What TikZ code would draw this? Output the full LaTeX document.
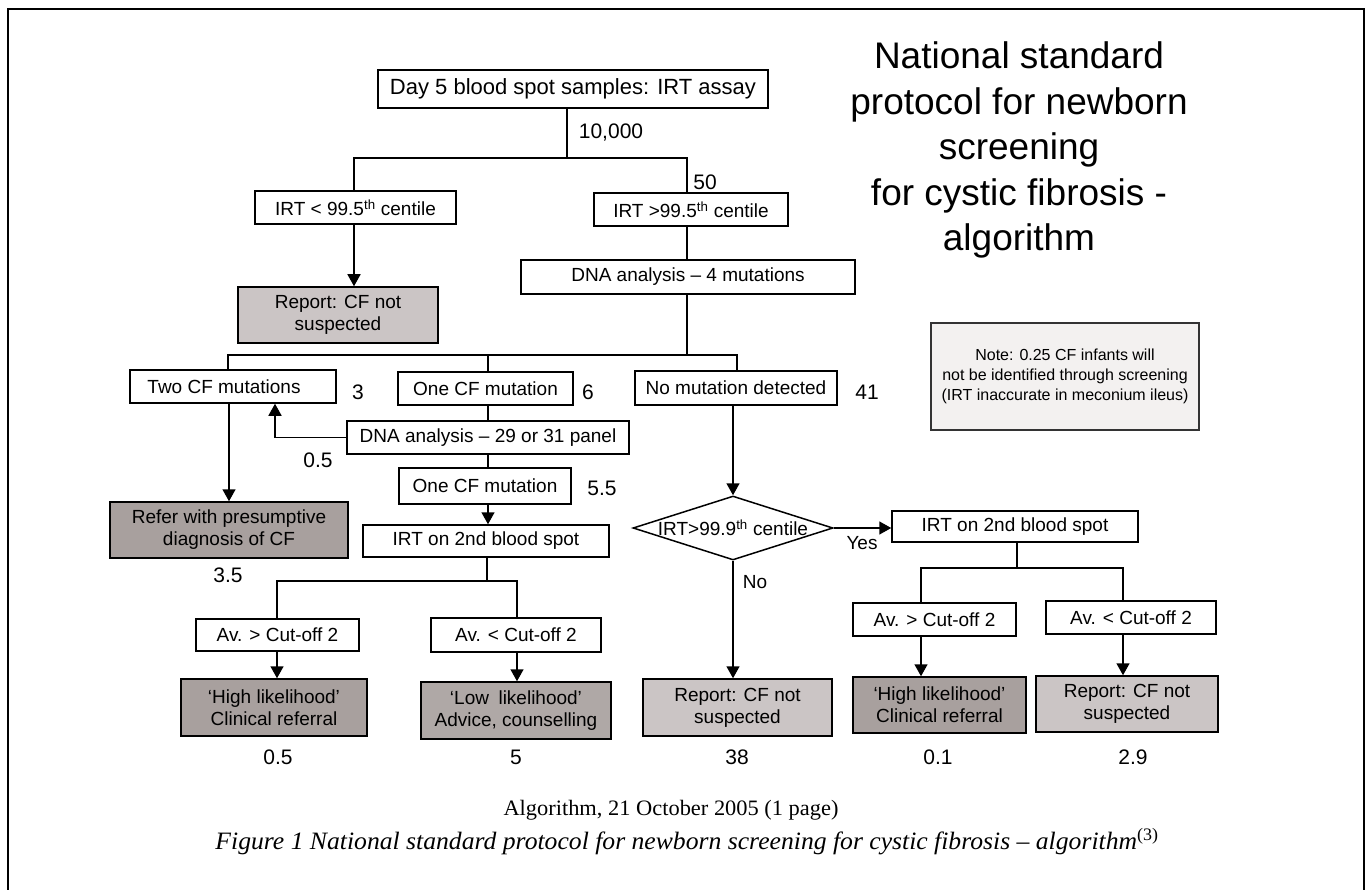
\documentclass[tikz,border=0pt]{standalone}
\usepackage{fontspec}
\setmainfont{Liberation Sans}
\newfontfamily\capfont{Liberation Serif}
\usetikzlibrary{arrows.meta,shapes.geometric}
\definecolor{darkfill}{HTML}{A8A09E}
\definecolor{lowfill}{HTML}{AFA8A6}
\definecolor{lightfill}{HTML}{CBC5C5}
\definecolor{notefill}{HTML}{F3F1F0}
\tikzset{
  bx/.style={draw, line width=1.5pt, inner sep=0, align=center, font=\fontsize{19}{22}\selectfont},
  wbox/.style={bx, fill=white},
  lbox/.style={bx, fill=lightfill},
  dbox/.style={bx, fill=darkfill},
  sz/.style 2 args={minimum width=#1pt, minimum height=#2pt},
  lbl/.style={inner sep=0, font=\fontsize{21}{24}\selectfont},
  ln/.style={line width=1.5pt},
  arr/.style={line width=1.5pt, -{Triangle[length=12pt,width=13pt]}}
}
\begin{document}
\begin{tikzpicture}[x=1pt,y=-1pt]
\useasboundingbox (0,0) rectangle (1370,890);
\fill[white] (0,0) rectangle (1370,890);
\draw[line width=1.3pt] (8,900) -- (8,9) -- (1364,9) -- (1364,900);

% title
\node[inner sep=0, align=center, font=\fontsize{37}{45.5}\selectfont] (title) at (1019,150)
  {National standard\\protocol for newborn\\screening\\for cystic fibrosis -\\algorithm};

% note
\node[draw=black!80, line width=1.2pt, fill=notefill, sz={268}{107}, inner sep=0, align=center,
      font=\fontsize{16}{20}\selectfont] (note) at (1065,376.5)
  {Note: 0.25 CF infants will\\not be identified through screening\\(IRT inaccurate in meconium ileus)};

% boxes
\node[wbox, sz={390}{38}, font=\fontsize{22}{24}\selectfont] (day5) at (573,89) {Day 5 blood spot samples: IRT assay};
\node[wbox, sz={201}{33}] (irtlow) at (355.5,207.5) {IRT < 99.5\textsuperscript{th} centile};
\node[wbox, sz={194}{33}] (irthigh) at (691,209.5) {IRT >99.5\textsuperscript{th} centile};
\node[wbox, sz={334}{34}] (dna4) at (688,277) {DNA analysis -- 4 mutations};
\node[lbox, sz={200}{56}] (rep1) at (338,315) {Report: CF not\\suspected};
\node[wbox, sz={206}{33}] (twocf) at (233,386.5) {\hspace*{-18pt}Two CF mutations};
\node[wbox, sz={175}{33}] (onecf1) at (485.5,388.5) {One CF mutation};
\node[wbox, sz={202}{34}] (nomut) at (736,388) {No mutation detected};
\node[wbox, sz={282}{33}] (dna29) at (488,437.5) {DNA analysis -- 29 or 31 panel};
\node[wbox, sz={172}{36}] (onecf2) at (485,486) {One CF mutation};
\node[dbox, sz={238}{56}] (refer) at (229,530) {Refer with presumptive\\diagnosis of CF};
\node[wbox, sz={246}{32}] (irt2L) at (486,541) {IRT on 2nd blood spot};
\node[wbox, sz={163}{32}] (avgtL) at (277.5,635) {Av. > Cut-off 2};
\node[wbox, sz={170}{34}] (avltL) at (516,635) {Av. < Cut-off 2};
\node[dbox, sz={186}{57}] (highL) at (274,707.5) {‘High likelihood’\\Clinical referral};
\node[bx, fill=lowfill, sz={190}{57}] (lowL) at (516,710.5) {‘Low\enspace likelihood’\\Advice, counselling};
\node[diamond, draw, line width=1.5pt, fill=white, minimum width=200pt, minimum height=64pt, inner sep=0] (dia) at (733,528) {};
\node[inner sep=0, font=\fontsize{19}{22}\selectfont] (diatext) at (dia.center) {IRT>99.9\textsuperscript{th} centile};
\node[lbox, sz={189}{57}] (rep38) at (737.5,707.5) {Report: CF not\\suspected};
\node[wbox, sz={246}{31}] (irt2R) at (1015,526.5) {IRT on 2nd blood spot};
\node[wbox, sz={163}{33}] (avgtR) at (934.5,619.5) {Av. > Cut-off 2};
\node[wbox, sz={170}{33}] (avltR) at (1131,617.5) {Av. < Cut-off 2};
\node[dbox, sz={173}{56}] (highR) at (939.5,705) {‘High likelihood’\\Clinical referral};
\node[lbox, sz={182}{56}] (repR) at (1127,704) {Report: CF not\\suspected};

% junction coordinates
\coordinate (j1) at (567,158);
\coordinate (bL) at (354,158);
\coordinate (bR) at (687,158);
\coordinate (m1) at (228,355);
\coordinate (m2) at (488,355);
\coordinate (m3) at (737,355);
\coordinate (k) at (275,438);
\coordinate (r1) at (229,403);
\coordinate (m4) at (487,581);
\coordinate (L1) at (277,581);
\coordinate (L2) at (517,581);
\coordinate (n1) at (1017,568);
\coordinate (R1) at (921,568);
\coordinate (R2) at (1123,568);

% connectors
\draw[ln] (j1 |- day5.south) -- (j1);
\draw[ln] (bL |- irtlow.north) -- (bL) -- (bR) -- (bR |- irthigh.north);
\draw[arr] (bL |- irtlow.south) -- (bL |- rep1.north);
\draw[ln] (bR |- irthigh.south) -- (bR |- dna4.north);
\draw[ln] (bR |- dna4.south) -- (bR |- m1);
\draw[ln] (m1 |- twocf.north) -- (m1) -- (m3) -- (m3 |- nomut.north);
\draw[ln] (m2) -- (m2 |- onecf1.north);
\draw[ln] (m2 |- onecf1.south) -- (m2 |- dna29.north);
\draw[ln] (m2 |- dna29.south) -- (m2 |- onecf2.north);
\draw[arr] (m2 |- onecf2.south) -- (m2 |- irt2L.north);
\draw[arr] (dna29.west) -| (k |- twocf.south);
\draw[arr] (r1 |- twocf.south) -- (r1 |- refer.north);
\draw[ln] (m4 |- irt2L.south) -- (m4);
\draw[ln] (L1 |- avgtL.north) -- (L1) -- (L2) -- (L2 |- avltL.north);
\draw[arr] (L1 |- avgtL.south) -- (L1 |- highL.north);
\draw[arr] (L2 |- avltL.south) -- (L2 |- lowL.north);
\draw[arr] (dia.north |- nomut.south) -- (dia.north);
\draw[arr] (dia.south) -- (dia.south |- rep38.north);
\draw[arr] (dia.east) -- (irt2R.west |- dia.east);
\draw[ln] (n1 |- irt2R.south) -- (n1);
\draw[ln] (R1 |- avgtR.north) -- (R1) -- (R2) -- (R2 |- avltR.north);
\draw[arr] (R1 |- avgtR.south) -- (R1 |- highR.north);
\draw[arr] (R2 |- avltR.south) -- (R2 |- repR.north);

% labels
\node[lbl] (n10000) at (611,133) {10,000};
\node[lbl] (n50) at (705,182) {50};
\node[lbl] (n3) at (358,392) {3};
\node[lbl] (n6) at (588,392) {6};
\node[lbl] (n41) at (867,392) {41};
\node[lbl] (n05a) at (318,460) {0.5};
\node[lbl] (n55) at (602,488) {5.5};
\node[lbl] (n35) at (228,575) {3.5};
\node[lbl, font=\fontsize{19}{22}\selectfont] (yes) at (862,543) {Yes};
\node[lbl, font=\fontsize{19}{22}\selectfont] (no) at (755,582) {No};
\node[lbl] (n05b) at (278,757) {0.5};
\node[lbl] (n5) at (516,757) {5};
\node[lbl] (n38) at (737,757) {38};
\node[lbl] (n01) at (938,757) {0.1};
\node[lbl] (n29) at (1133,757) {2.9};

% captions
\node[inner sep=0] (cap1) at (671,810)
  {\resizebox{335pt}{\height}{\capfont\fontsize{22}{24}\selectfont Algorithm, 21 October 2005 (1 page)}};
\node[inner sep=0] (cap2) at (687,842)
  {\resizebox{943pt}{\height}{\capfont\itshape\fontsize{25}{28}\selectfont Figure 1 National standard protocol for newborn screening for cystic fibrosis – algorithm\textsuperscript{\upshape(3)}}};
\end{tikzpicture}
\end{document}
